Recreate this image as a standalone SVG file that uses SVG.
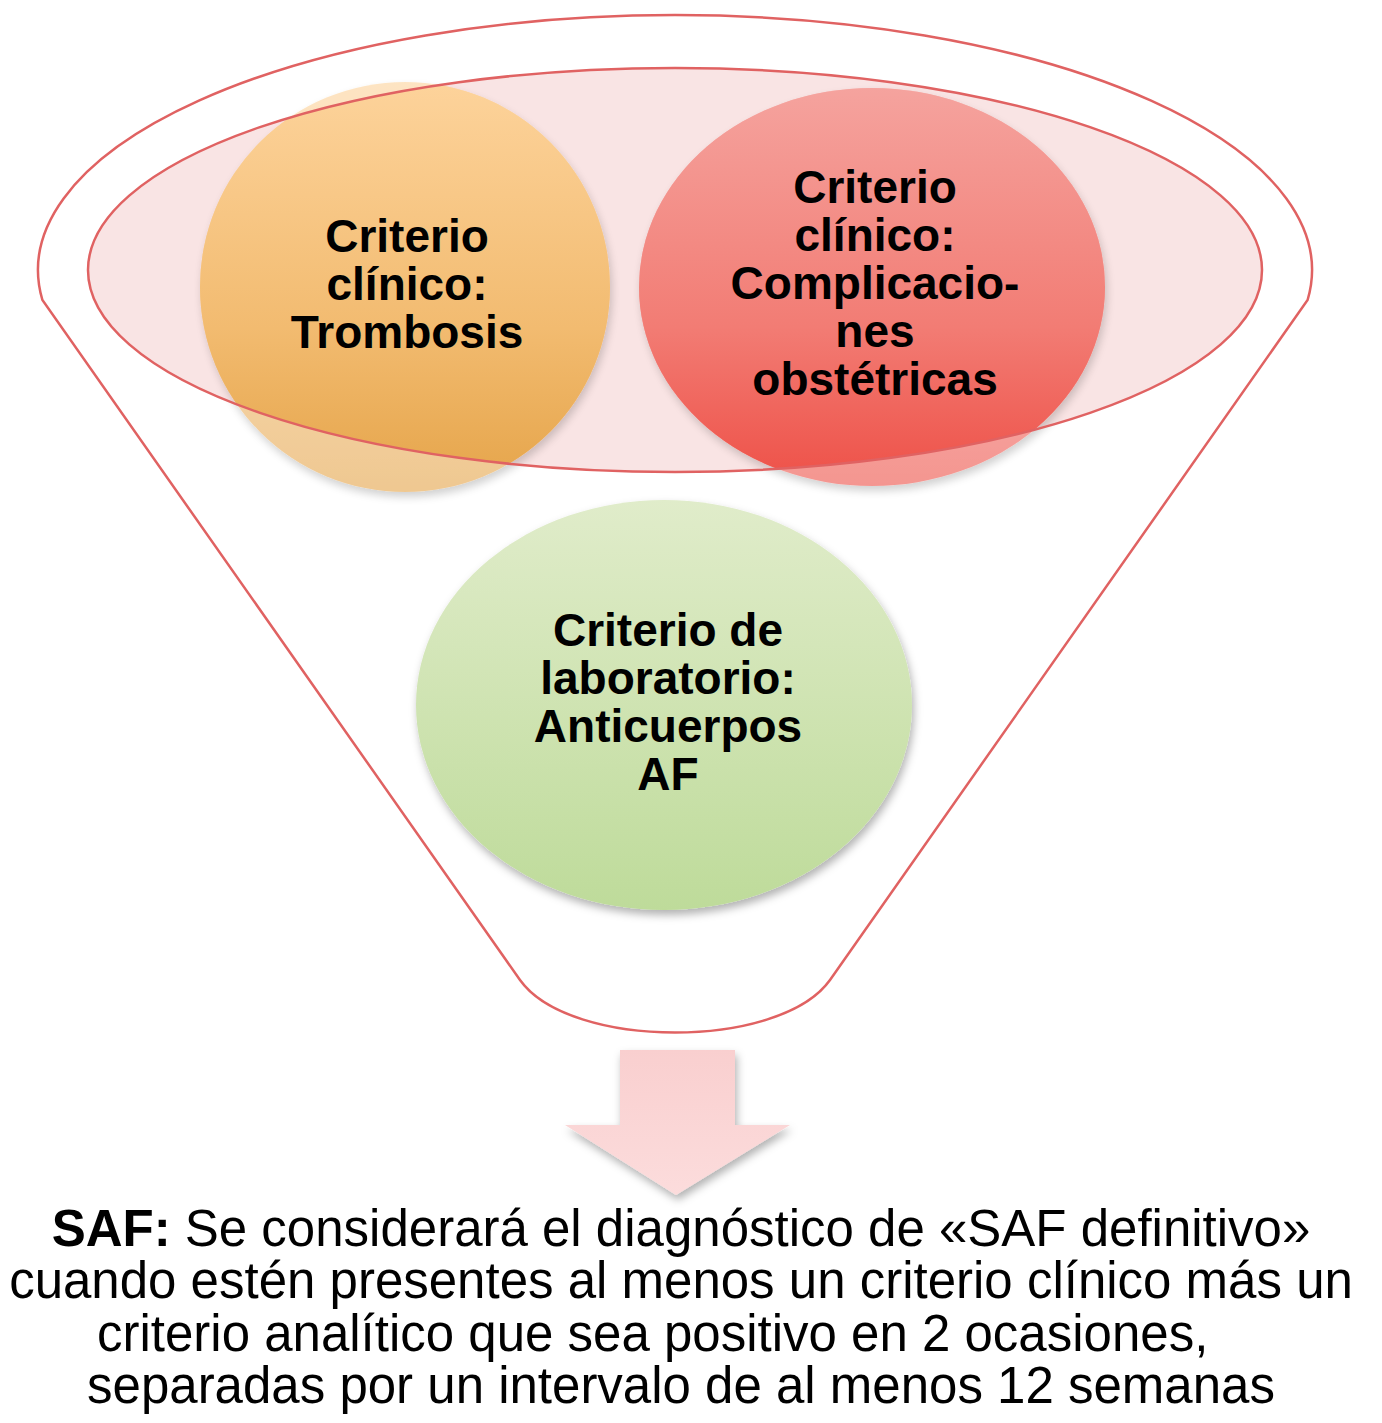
<svg xmlns="http://www.w3.org/2000/svg" width="1382" height="1423" viewBox="0 0 1382 1423">
<style>
.lbl{font-family:"Liberation Sans",Arial,sans-serif;font-weight:bold;font-size:46px;fill:#000;text-anchor:middle}
.body{font-family:"Liberation Sans",Arial,sans-serif;font-size:51px;fill:#000;text-anchor:middle}
.body.start{text-anchor:start}
.redline{fill:none;stroke:#e06262;stroke-width:2.5}
</style>
<defs>
<linearGradient id="gOr" x1="0" y1="0" x2="0" y2="1"><stop offset="0" stop-color="#fdd39b"/><stop offset="0.6" stop-color="#f2bb70"/><stop offset="1" stop-color="#e5a449"/></linearGradient>
<linearGradient id="gRd" x1="0" y1="0" x2="0" y2="1"><stop offset="0" stop-color="#f5a39e"/><stop offset="0.6" stop-color="#f27c74"/><stop offset="1" stop-color="#ee5047"/></linearGradient>
<linearGradient id="gGr" x1="0" y1="0" x2="0" y2="1"><stop offset="0" stop-color="#e0ecca"/><stop offset="1" stop-color="#bedb9a"/></linearGradient>
<linearGradient id="gAr" x1="0" y1="0" x2="0" y2="1"><stop offset="0" stop-color="#f9cfcf"/><stop offset="1" stop-color="#fcdcdc"/></linearGradient>
<filter id="sh" x="-10%" y="-10%" width="120%" height="125%"><feDropShadow dx="2" dy="5" stdDeviation="4" flood-color="#000" flood-opacity="0.3"/></filter>
<clipPath id="inEll"><ellipse cx="675" cy="270" rx="587" ry="202"/></clipPath>
</defs>

<g id="funnel">
<path class="redline" d="M 42.4,300 A 637 255 0 1 1 1307.6,300 L 830,980 C 780,1050 570,1050 520,980 Z" fill="#fff"/>
</g>

<g id="inner-ellipse">
<ellipse cx="675" cy="270" rx="587" ry="202" fill="#f9e4e4"/>
</g>

<g id="node-trombosis">
<ellipse cx="405" cy="287" rx="205" ry="205" fill="url(#gOr)" opacity="0.6" filter="url(#sh)"/>
<ellipse cx="405" cy="287" rx="205" ry="205" fill="url(#gOr)" clip-path="url(#inEll)"/>
<text class="lbl" x="407" y="252">Criterio</text>
<text class="lbl" x="407" y="300">clínico:</text>
<text class="lbl" x="407" y="348">Trombosis</text>
</g>

<g id="node-obstetricas">
<ellipse cx="872" cy="287" rx="233" ry="199" fill="url(#gRd)" opacity="0.6" filter="url(#sh)"/>
<ellipse cx="872" cy="287" rx="233" ry="199" fill="url(#gRd)" clip-path="url(#inEll)"/>
<text class="lbl" x="875" y="203">Criterio</text>
<text class="lbl" x="875" y="251">clínico:</text>
<text class="lbl" x="875" y="299">Complicacio-</text>
<text class="lbl" x="875" y="347">nes</text>
<text class="lbl" x="875" y="395">obstétricas</text>
</g>

<g id="inner-ellipse-outline">
<ellipse class="redline" cx="675" cy="270" rx="587" ry="202"/>
</g>

<g id="node-laboratorio">
<ellipse cx="664" cy="705" rx="248" ry="205" fill="url(#gGr)" filter="url(#sh)"/>
<text class="lbl" x="668" y="646">Criterio de</text>
<text class="lbl" x="668" y="694">laboratorio:</text>
<text class="lbl" x="668" y="742">Anticuerpos</text>
<text class="lbl" x="668" y="790">AF</text>
</g>

<g id="connectors">
<path d="M 620,1050 L 735,1050 L 735,1125 L 790,1125 L 676,1195 L 565,1125 L 620,1125 Z" fill="url(#gAr)" filter="url(#sh)"/>
</g>

<g id="node-saf">
<text class="body" x="681" y="1246"><tspan font-weight="bold">SAF:</tspan> Se considerará el diagnóstico de «SAF definitivo»</text>
<text class="body" x="681" y="1298">cuando estén presentes al menos un criterio clínico más un</text>
<text class="body start" x="97" y="1351">criterio analítico que sea positivo en 2 ocasiones,</text>
<text class="body" x="681" y="1403">separadas por un intervalo de al menos 12 semanas</text>
</g>
</svg>
